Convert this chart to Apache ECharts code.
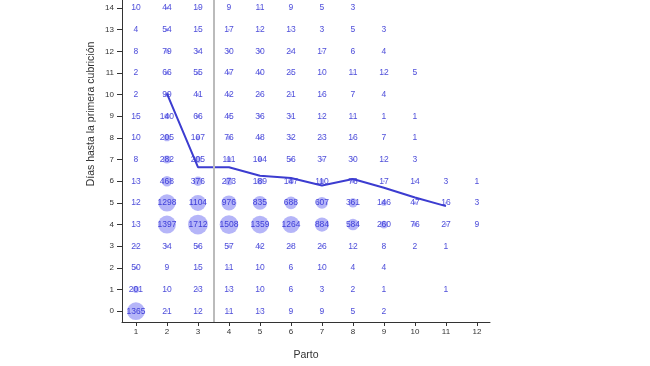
<!DOCTYPE html>
<html><head><meta charset="utf-8">
<script src="https://cdn.jsdelivr.net/npm/echarts@6/dist/echarts.min.js"></script>
<style>html,body{margin:0;padding:0;background:#fff}#c{width:650px;height:366px}</style>
</head><body><div id="c"></div>
<script>
const partos = [1,2,3,4,5,6,7,8,9,10,11,12];
const dias = [0,1,2,3,4,5,6,7,8,9,10,11,12,13,14];
// counts per día (row), by parto 1..12
const counts = [
  [1365,21,12,11,13,9,9,5,2,null,null,null],
  [201,10,23,13,10,6,3,2,1,null,1,null],
  [50,9,15,11,10,6,10,4,4,null,null,null],
  [22,34,56,57,42,28,26,12,8,2,1,null],
  [13,1397,1712,1508,1359,1264,884,584,260,76,27,9],
  [12,1298,1104,976,835,688,607,361,146,47,16,3],
  [13,468,376,273,189,147,110,76,17,14,3,1],
  [8,282,205,111,104,56,37,30,12,3,null,null],
  [10,205,107,76,48,32,23,16,7,1,null,null],
  [15,140,66,45,36,31,12,11,1,1,null,null],
  [2,99,41,42,26,21,16,7,4,null,null,null],
  [2,66,55,47,40,25,10,11,12,5,null,null],
  [8,79,34,30,30,24,17,6,4,null,null,null],
  [4,54,15,17,12,13,3,5,3,null,null,null],
  [10,44,19,9,11,9,5,3,null,null,null,null]
];
const meanPartos = [2,3,4,5,6,7,8,9,10,11];
const meanDias = [10.05,6.65,6.65,6.25,6.15,5.8,6.1,5.7,5.25,4.85];
const splitParto = 3.5;

const pts = [];
dias.forEach((d,i)=>partos.forEach((p,j)=>{const v=counts[i][j]; if(v!=null) pts.push([p,d,v]);}));
const meanData = meanPartos.map((p,i)=>[p,meanDias[i]]);

const chart = echarts.init(document.getElementById('c'));
chart.setOption({
  animation:false,
  grid:{left:122,right:160,top:0,bottom:44,containLabel:false},
  graphic:[{type:'text',x:91,y:114,rotation:Math.PI/2,
    style:{text:'Días hasta la primera cubrición',fontFamily:'Liberation Sans',fontSize:10.5,fill:'#333',
      align:'center',verticalAlign:'middle'}}],
  xAxis:{type:'value',min:0.55,max:12.42,name:'Parto',nameLocation:'middle',nameGap:28,
    nameTextStyle:{fontFamily:'Liberation Sans',fontSize:10.5,color:'#333'},
    axisLine:{show:true,onZero:false,lineStyle:{color:'#333',width:1}},
    axisTick:{show:true,length:4,customValues:partos,lineStyle:{color:'#333'}},
    axisLabel:{customValues:partos,fontFamily:'Liberation Sans',fontSize:8,color:'#333',margin:6},
    splitLine:{show:false}},
  yAxis:{type:'value',min:-0.5,max:14.37,
    axisLine:{show:true,onZero:false,lineStyle:{color:'#333',width:1}},
    axisTick:{show:true,length:5,customValues:dias,lineStyle:{color:'#333'}},
    axisLabel:{customValues:dias,fontFamily:'Liberation Sans',fontSize:8,color:'#333',margin:8},
    splitLine:{show:false}},
  series:[
    {type:'scatter',data:pts,
     symbolSize:v=>0.48*Math.sqrt(v[2]),
     itemStyle:{color:'rgba(100,100,240,0.6)'},
     label:{show:true,position:'inside',formatter:p=>String(p.value[2]),
       fontFamily:'Liberation Sans',fontSize:8.5,color:'#2020d0'},
     markLine:{silent:true,symbol:'none',label:{show:false},
       lineStyle:{color:'#bbbbbb',width:2,type:'solid'},data:[{xAxis:splitParto}]},
     z:2},
    {type:'line',data:meanData,showSymbol:false,symbol:'none',
     lineStyle:{color:'#3c3cd0',width:2},z:3}
  ]
});
</script></body></html>
